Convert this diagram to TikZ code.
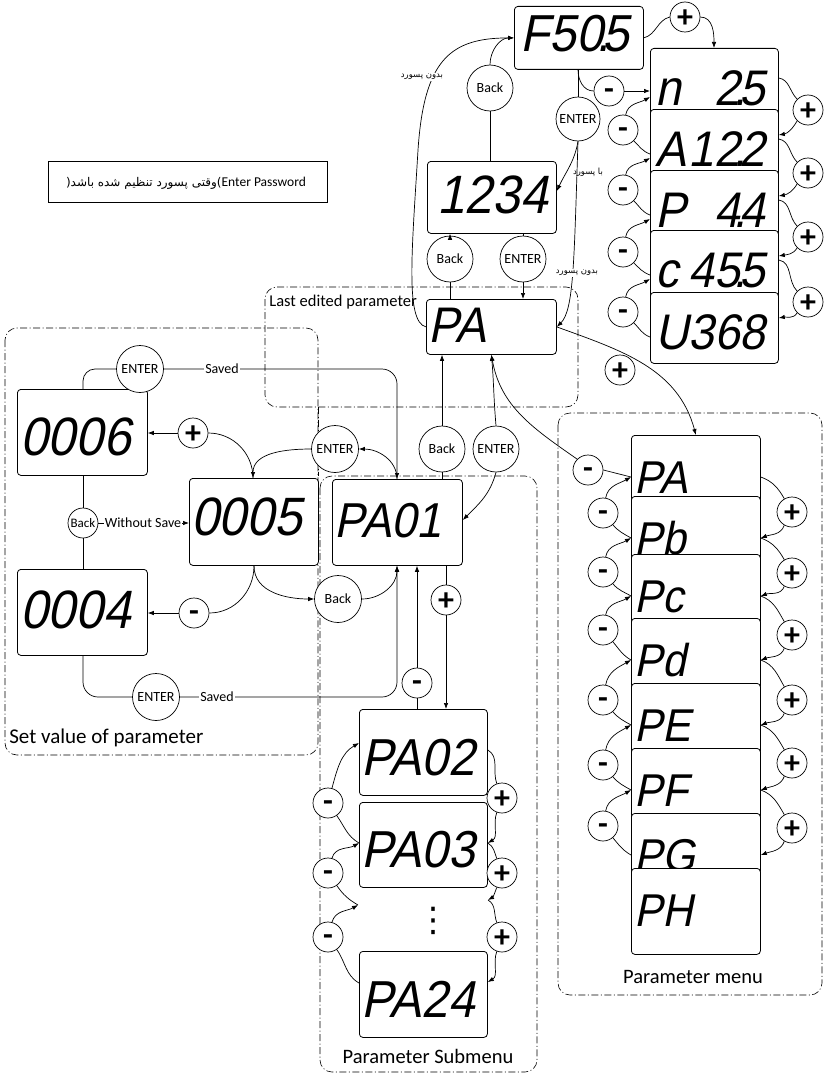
\documentclass[tikz,border=0pt]{standalone}
\usepackage{fontspec}
\setmainfont{Carlito}
\newfontfamily\arabicfont[Script=Arabic]{DejaVu Sans}
\newfontfamily\dejavu{DejaVu Sans}
\newfontfamily\segfont[FakeSlant=0.2,FakeStretch=0.92]{Liberation Sans}
\TeXXeTstate=1
\usetikzlibrary{arrows.meta,calc}
\newcommand\dpt{\makebox[0pt]{.}}
\newcommand\fsz[1]{\fontsize{#1}{#1}\selectfont}
\tikzset{
  disp/.style={draw, rounded corners=3.5pt, fill=white, line width=0.8pt, inner sep=0pt, anchor=north west},
  seg/.style={font=\segfont\fsz{#1}, inner sep=0pt, anchor=base west},
  btn/.style={draw, circle, minimum size=46pt, inner sep=0pt, fill=white, font=\fsz{14}},
  pm/.style={draw, circle, minimum size=30pt, inner sep=0pt, fill=white, font=\bfseries\fsz{32}, text height=17pt, text depth=0pt},
  pp/.style={pm, text height=21pt, text depth=0pt},
  lbl/.style={fill=white, inner sep=1pt, font=\fsz{14}},
  ar/.style={font=\arabicfont\fsz{8.5}, fill=white, inner sep=0.5pt},
  region/.style={draw, dash pattern=on 7pt off 2.5pt on 1pt off 2.5pt, rounded corners=12pt, line width=0.6pt},
  regionline/.style={draw, dash pattern=on 7pt off 2.5pt on 1pt off 2.5pt, line width=0.6pt},
  arr/.style={-{Latex[length=6pt,width=4.5pt]}},
}
\begin{document}
\begin{tikzpicture}[x=1pt,y=1pt,line width=0.7pt]
\useasboundingbox (0,0) rectangle (824,-1073);
\fill[white] (0,0) rectangle (824,-1073);

% regions
\draw[region] (265,-287) rectangle (578,-407);
\draw[region] (5,-328) rectangle (318,-755);
\draw[region] (320,-476) rectangle (537,-1072);
\draw[regionline] (318,-407) -- (318,-476);
\draw[region] (558,-413) rectangle (822,-995);
\node[anchor=west, inner sep=0pt, font=\fsz{16.5}] (lLast) at (269,-302) {Last edited parameter};
\node[anchor=west, inner sep=0pt, font=\fsz{21}] (lSet) at (9,-738) {Set value of parameter};
\node[font=\fsz{20.5}] (lSub) at (428,-1056) {Parameter Submenu};
\node[font=\fsz{20.5}] (lMenu) at (693,-977) {Parameter menu};

% password note
\node[draw, minimum width=279pt, minimum height=41pt, inner sep=0pt] (pwbox) at (187.5,-181.5) {};
\node[inner sep=0pt, font=\fsz{13.5}] (pwtext) at (186,-183) {{\arabicfont\fsz{12}(\beginR وقتی پسورد تنظیم شده باشد\endR)}Enter Password};

% top displays
\node[disp, minimum width=129pt, minimum height=63pt] (F505) at (514,-6) {};
\node[seg=52] (tF505) at (520,-52) {F50\dpt5};
\node[disp, minimum width=129pt, minimum height=72pt] (P1234) at (427,-161) {};
\node[seg=54, anchor=base east] (tP1234) at (548,-213) {1234};
\node[disp, minimum width=130pt, minimum height=55pt] (PAt) at (426,-299) {};
\node[seg=50] (tPAt) at (428,-342) {PA};

\node[btn] (Back1) at (490,-88) {Back};
\node[btn, minimum size=44pt] (Enter1) at (578,-119) {ENTER};
\node[btn] (Back2) at (450,-259) {Back};
\node[btn] (Enter2) at (523,-259) {ENTER};
\node[btn] (Back3) at (442,-449) {Back};
\node[btn] (Enter3) at (496,-449) {ENTER};

% n stack
\node[disp, minimum width=128pt, minimum height=71pt] (nb) at (650,-48) {};
\node[seg=50, text width=110pt] (tnb) at (655,-105) {n\hfill 2\dpt5};
\node[disp, minimum width=128pt, minimum height=71pt] (Ab) at (650,-109) {};
\node[seg=50, text width=110pt] (tAb) at (655,-166) {A\hfill 12\dpt2};
\node[disp, minimum width=128pt, minimum height=71pt] (Pbx) at (650,-170) {};
\node[seg=50, text width=110pt] (tPbx) at (655,-227) {P\hfill 4\dpt4};
\node[disp, minimum width=128pt, minimum height=71pt] (cb) at (650,-230) {};
\node[seg=50, text width=110pt] (tcb) at (655,-287) {c\hfill 45\dpt5};
\node[disp, minimum width=128pt, minimum height=71pt] (Ub) at (650,-292) {};
\node[seg=50, text width=110pt] (tUb) at (655,-349) {U\hfill 368};

\node[pm] (Mn0) at (609,-91) {-};
\node[pp] (Pp0) at (685,-17) {+};
\node[pm] (Mn1) at (623,-130) {-};
\node[pm] (Mn2) at (623,-190) {-};
\node[pm] (Mn3) at (623,-252) {-};
\node[pm] (Mn4) at (623,-312) {-};
\node[pp] (Pp1) at (808,-110) {+};
\node[pp] (Pp2) at (808,-173) {+};
\node[pp] (Pp3) at (808,-237) {+};
\node[pp] (Pp4) at (808,-302) {+};
\node[pp] (P0) at (620,-370) {+};

% top connections
\draw[arr] (Back1.north) to[out=90,in=180] (F505.west);
\draw (Back1.south) -- (Back1.south |- P1234.north);
\draw[arr] (PAt.west) .. controls (405,-322) and (412,-250) .. (418,-150) .. controls (424,-60) and (450,-38) .. (F505.west);
\node[ar] (ar1) at (422,-77) {\beginR بدون پسورد\endR};
\draw (F505.south -| Enter1.north) -- (Enter1.north);
\draw (F505.south -| Enter1.north) to[out=-90,in=180] (Mn0.west);
\draw[arr] (Enter1.south) to[out=-100,in=65] ($(P1234.north east)+(0,-30)$);
\node[ar] (ar2) at (588,-172) {\beginR با پسورد\endR};
\draw[arr] (Enter1.south) .. controls (574,-260) and (574,-310) .. (PAt.east);
\node[ar] (ar3) at (577,-273) {\beginR بدون پسورد\endR};
\draw[arr] (Back2.north) -- (Back2.north |- P1234.south);
\draw (Back2.south) -- (Back2.south |- PAt.north);
\draw (Enter2.north |- P1234.south) -- (Enter2.north);
\draw[arr] (Enter2.south) -- (Enter2.south |- PAt.north);

% n stack connections
\draw (F505.east) to[out=15,in=195] (Pp0.west);
\draw[arr] (Pp0.east) to[out=0,in=90] ($(nb.north west)+(64,0)$);
\draw[arr] (Mn0.east) -- ($(nb.north west)+(0,-43)$);
\foreach \u/\l/\k in {nb/Ab/1, Ab/Pbx/2, Pbx/cb/3, cb/Ub/4} {
  \draw ($(\l.north west)+(0,-45)$) to[out=160,in=-45] (Mn\k.-45);
  \draw[arr] (Mn\k.80) to[out=80,in=210] ($(\u.north west)+(0,-49)$);
  \draw ($(\u.north east)+(0,-30)$) to[out=-10,in=135] (Pp\k.135);
  \draw[arr] (Pp\k.-135) to[out=-120,in=10] ($(\l.north east)+(0,-26)$);
}

% set value area
\node[disp, minimum width=130pt, minimum height=86pt] (B0006) at (17,-389) {};
\node[seg=54] (tB0006) at (20,-455) {0006};
\node[disp, minimum width=130pt, minimum height=86pt] (B0004) at (17,-569) {};
\node[seg=54] (tB0004) at (20,-628) {0004};
\node[disp, minimum width=129pt, minimum height=87pt] (B0005) at (189,-478) {};
\node[seg=54] (tB0005) at (191,-535) {0005};
\node[disp, minimum width=130pt, minimum height=86pt] (PA01) at (332,-479) {};
\node[seg=49] (tPA01) at (334,-537) {PA01};

\node[btn, minimum size=47pt] (EnterA) at (140,-369) {ENTER};
\node[pp] (Pplus) at (193,-433) {+};
\node[btn, minimum size=47pt] (EnterB) at (335,-449) {ENTER};
\node[btn, minimum size=30pt, font=\fsz{13}] (BackL) at (83,-523) {Back};
\node[pm] (Mminus) at (194,-613) {-};
\node[btn, minimum size=47pt] (BackR) at (338,-599) {Back};
\node[btn, minimum size=47pt] (EnterC) at (156,-697) {ENTER};

\draw[rounded corners=12pt] ($(B0006.north west)+(66,0)$) |- (EnterA.west);
\draw[arr,rounded corners=15pt] (EnterA.east) -| ($(PA01.north west)+(65,0)$);
\node[lbl] (sv1) at (222,-369) {Saved};
\draw[arr] (Pplus.west) -- (Pplus.west -| B0006.east);
\draw (Pplus.east) to[out=0,in=90] ($(B0005.north west)+(64,0)$);
\draw[arr] (EnterB.west) to[out=180,in=90] ($(B0005.north west)+(64,0)$);
\draw[arr] ($(PA01.north west)+(65,0)$) to[out=90,in=0] (EnterB.east);
\draw (BackL.north |- B0006.south) -- (BackL.north);
\draw (BackL.south) -- (BackL.south |- B0004.north);
\draw[arr] (BackL.east) -- (BackL.east -| B0005.west);
\node[lbl] (ws) at (143,-523) {Without Save};
\draw[arr] (Mminus.west) -- (Mminus.west -| B0004.east);
\draw (Mminus.east) to[out=0,in=-90] ($(B0005.south west)+(65,0)$);
\draw[arr] ($(B0005.south west)+(65,0)$) to[out=-90,in=180] (BackR.west);
\draw[arr] (BackR.east) to[out=0,in=-90] ($(PA01.south west)+(65,0)$);
\draw[rounded corners=15pt] ($(B0004.south west)+(66,0)$) |- (EnterC.west);
\draw[arr,rounded corners=15pt] (EnterC.east) -| ($(PA01.south west)+(65,0)$);
\node[lbl] (sv2) at (217,-697) {Saved};

% PA top links
\draw[arr] (Back3.north) -- (Back3.north |- PAt.south);
\draw (Back3.south) -- (Back3.south |- PA01.north);
\draw[arr] (Enter3.north) to[out=95,in=-85] (PAt.south);
\draw[arr] (Enter3.south) to[out=-105,in=45] ($(PA01.north east)+(0,-41)$);

% submenu
\node[disp, minimum width=128pt, minimum height=86pt] (PA02) at (359,-709) {};
\node[seg=52] (tPA02) at (361,-775) {PA02};
\node[disp, minimum width=128pt, minimum height=85pt] (PA03) at (359,-802) {};
\node[seg=52] (tPA03) at (361,-867) {PA03};
\node[disp, minimum width=128pt, minimum height=86pt] (PA24) at (359,-951) {};
\node[seg=52] (tPA24) at (361,-1017) {PA24};
\node[font=\dejavu\fsz{34}, inner sep=0pt] (dots) at (433,-921) {⋮};
\coordinate (gapL) at (358,-905);
\coordinate (gapR) at (488,-900);

\node[pm] (SM0) at (417,-683) {-};
\node[pp] (SP0) at (446,-600) {+};
\draw[arr] (SM0.north) -- (SM0.north |- PA01.south);
\draw (SM0.south) -- (SM0.south |- PA02.north);
\draw (SP0.north |- PA01.south) -- (SP0.north);
\draw[arr] (SP0.south) -- (SP0.south |- PA02.north);

\node[pm] (SMa) at (328,-803) {-};
\node[pm] (SMb) at (328,-873) {-};
\node[pm] (SMc) at (328,-937) {-};
\node[pp] (SPa) at (502,-798) {+};
\node[pp] (SPb) at (502,-873) {+};
\node[pp] (SPc) at (502,-937) {+};
\draw ($(PA03.north west)+(0,-41)$) to[out=150,in=-55] (SMa.-55);
\draw[arr] (SMa.75) to[out=75,in=210] ($(PA02.north west)+(0,-34)$);
\draw (gapL) to[out=150,in=-55] (SMb.-55);
\draw[arr] (SMb.75) to[out=75,in=210] ($(PA03.north west)+(0,-41)$);
\draw ($(PA24.north west)+(0,-32)$) to[out=150,in=-55] (SMc.-55);
\draw[arr] (SMc.75) to[out=75,in=210] (gapL);
\draw ($(PA02.north east)+(0,-41)$) to[out=-30,in=110] (SPa.110);
\draw[arr] (SPa.-110) to[out=-110,in=30] ($(PA03.north east)+(0,-41)$);
\draw ($(PA03.north east)+(0,-41)$) to[out=-30,in=110] (SPb.110);
\draw[arr] (SPb.-110) to[out=-110,in=30] (gapR);
\draw (gapR) to[out=-30,in=110] (SPc.110);
\draw[arr] (SPc.-110) to[out=-110,in=30] ($(PA24.north east)+(0,-31)$);

% parameter menu
\foreach \nm/\tp/\tx in {mPA/435/PA, mPb/496/Pb, mPc/554/Pc, mPd/618/Pd, mPE/683/PE, mPF/748/PF, mPG/813/PG, mPH/868/PH} {
  \node[disp, minimum width=129pt, minimum height=86pt] (\nm) at (631,-\tp) {};
  \node[seg=46] (t\nm) at (634,-\tp-58) {\tx};
}
\node[pm] (Mm0) at (588,-470) {-};
\draw[arr] (Mm0.north west) to[out=145,in=-80] (PAt.south);
\draw (Mm0.east) -- ($(mPA.north west)+(0,-42)$);
\draw[arr] (PAt.east) to[out=-20,in=105] (mPA.north);
\foreach \u/\l/\ym/\yp [count=\k] in {mPA/mPb/513/512, mPb/mPc/572/573, mPc/mPd/630/635, mPd/mPE/700/700, mPE/mPF/765/763, mPF/mPG/826/828} {
  \node[pm] (Mm\k) at (603,-\ym) {-};
  \node[pp] (Pm\k) at (792,-\yp) {+};
  \draw ($(\l.north west)+(0,-42)$) to[out=150,in=-50] (Mm\k.-50);
  \draw[arr] (Mm\k.80) to[out=80,in=210] ($(\u.north west)+(0,-42)$);
  \draw ($(\u.north east)+(0,-42)$) to[out=-20,in=120] (Pm\k.120);
  \draw[arr] (Pm\k.-120) to[out=-110,in=20] ($(\l.north east)+(0,-42)$);
}
\end{tikzpicture}
\end{document}
